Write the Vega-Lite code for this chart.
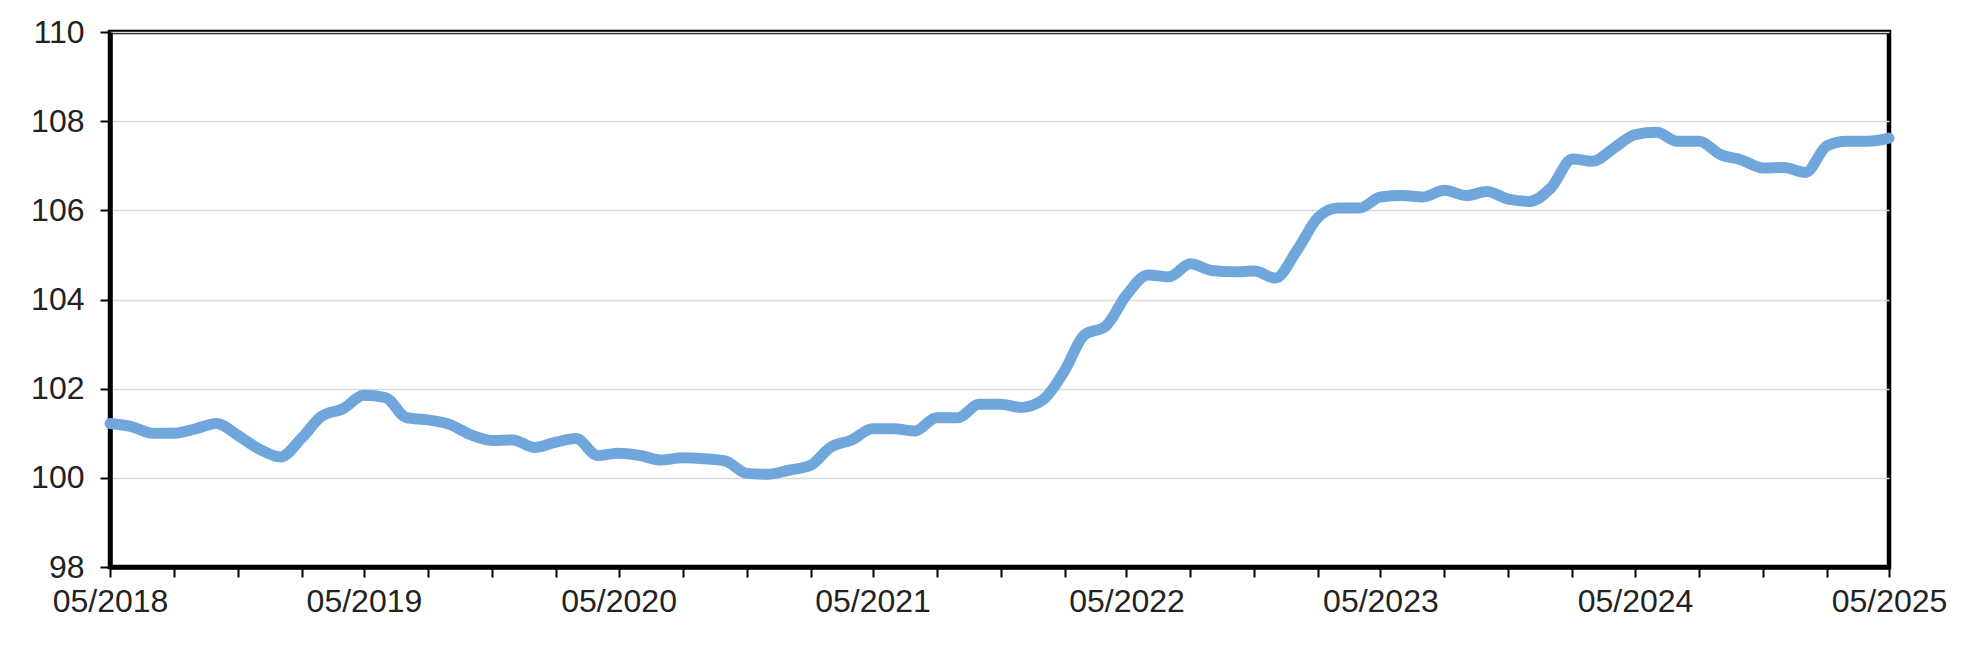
{
  "$schema": "https://vega.github.io/schema/vega-lite/v6.json",
  "autosize": "none",
  "padding": {"left": 110, "top": 32, "right": 91, "bottom": 92},
  "width": 1779,
  "height": 535,
  "background": "white",
  "view": {"stroke": "#000", "strokeWidth": 4.5},
  "config": {
    "axis": {
      "labelFont": "Liberation Sans",
      "labelFontSize": 32,
      "labelColor": "#222",
      "tickColor": "#000",
      "tickWidth": 2,
      "tickSize": 10,
      "domain": true,
      "domainColor": "#000",
      "domainWidth": 4.5,
      "labelFlush": false,
      "labelBound": false,
      "title": null
    }
  },
  "data": {
    "values": [
      {"date": "2018-05-01", "v": 101.22},
      {"date": "2018-06-01", "v": 101.15},
      {"date": "2018-07-01", "v": 101.0},
      {"date": "2018-08-01", "v": 101.0},
      {"date": "2018-09-01", "v": 101.1},
      {"date": "2018-10-01", "v": 101.22},
      {"date": "2018-11-01", "v": 100.95},
      {"date": "2018-12-01", "v": 100.65},
      {"date": "2019-01-01", "v": 100.47},
      {"date": "2019-02-01", "v": 100.9},
      {"date": "2019-03-01", "v": 101.38},
      {"date": "2019-04-01", "v": 101.55},
      {"date": "2019-05-01", "v": 101.85},
      {"date": "2019-06-01", "v": 101.8},
      {"date": "2019-07-01", "v": 101.35},
      {"date": "2019-08-01", "v": 101.3},
      {"date": "2019-09-01", "v": 101.2},
      {"date": "2019-10-01", "v": 100.97},
      {"date": "2019-11-01", "v": 100.84},
      {"date": "2019-12-01", "v": 100.85},
      {"date": "2020-01-01", "v": 100.68},
      {"date": "2020-02-01", "v": 100.8},
      {"date": "2020-03-01", "v": 100.88},
      {"date": "2020-04-01", "v": 100.5},
      {"date": "2020-05-01", "v": 100.55},
      {"date": "2020-06-01", "v": 100.5},
      {"date": "2020-07-01", "v": 100.4},
      {"date": "2020-08-01", "v": 100.45},
      {"date": "2020-09-01", "v": 100.43},
      {"date": "2020-10-01", "v": 100.38},
      {"date": "2020-11-01", "v": 100.1},
      {"date": "2020-12-01", "v": 100.08},
      {"date": "2021-01-01", "v": 100.17},
      {"date": "2021-02-01", "v": 100.28},
      {"date": "2021-03-01", "v": 100.68},
      {"date": "2021-04-01", "v": 100.85},
      {"date": "2021-05-01", "v": 101.1},
      {"date": "2021-06-01", "v": 101.1},
      {"date": "2021-07-01", "v": 101.05},
      {"date": "2021-08-01", "v": 101.35},
      {"date": "2021-09-01", "v": 101.35},
      {"date": "2021-10-01", "v": 101.65},
      {"date": "2021-11-01", "v": 101.65},
      {"date": "2021-12-01", "v": 101.58},
      {"date": "2022-01-01", "v": 101.75},
      {"date": "2022-02-01", "v": 102.4},
      {"date": "2022-03-01", "v": 103.2},
      {"date": "2022-04-01", "v": 103.4},
      {"date": "2022-05-01", "v": 104.1},
      {"date": "2022-06-01", "v": 104.55},
      {"date": "2022-07-01", "v": 104.51},
      {"date": "2022-08-01", "v": 104.8},
      {"date": "2022-09-01", "v": 104.65},
      {"date": "2022-10-01", "v": 104.62},
      {"date": "2022-11-01", "v": 104.64},
      {"date": "2022-12-01", "v": 104.48},
      {"date": "2023-01-01", "v": 105.1},
      {"date": "2023-02-01", "v": 105.85},
      {"date": "2023-03-01", "v": 106.05},
      {"date": "2023-04-01", "v": 106.05},
      {"date": "2023-05-01", "v": 106.3},
      {"date": "2023-06-01", "v": 106.33},
      {"date": "2023-07-01", "v": 106.3},
      {"date": "2023-08-01", "v": 106.45},
      {"date": "2023-09-01", "v": 106.33},
      {"date": "2023-10-01", "v": 106.42},
      {"date": "2023-11-01", "v": 106.25},
      {"date": "2023-12-01", "v": 106.2},
      {"date": "2024-01-01", "v": 106.5},
      {"date": "2024-02-01", "v": 107.15},
      {"date": "2024-03-01", "v": 107.1},
      {"date": "2024-04-01", "v": 107.4},
      {"date": "2024-05-01", "v": 107.7},
      {"date": "2024-06-01", "v": 107.75},
      {"date": "2024-07-01", "v": 107.55},
      {"date": "2024-08-01", "v": 107.55},
      {"date": "2024-09-01", "v": 107.25},
      {"date": "2024-10-01", "v": 107.13},
      {"date": "2024-11-01", "v": 106.95},
      {"date": "2024-12-01", "v": 106.96},
      {"date": "2025-01-01", "v": 106.85},
      {"date": "2025-02-01", "v": 107.45},
      {"date": "2025-03-01", "v": 107.55},
      {"date": "2025-04-01", "v": 107.55},
      {"date": "2025-05-01", "v": 107.62}
    ]
  },
  "mark": {"type": "line", "color": "#6fa6dc", "strokeWidth": 11, "interpolate": "monotone", "strokeCap": "round", "strokeJoin": "round"},
  "encoding": {
    "x": {
      "field": "date",
      "type": "temporal",
      "scale": {"type": "utc", "domain": [{"year": 2018, "month": 5, "date": 1, "utc": true}, {"year": 2025, "month": 5, "date": 1, "utc": true}], "nice": false},
      "axis": {
        "grid": false,
        "labelPadding": 9,
        "labelOverlap": false,
        "labelExpr": "utcmonth(datum.value) == 4 ? utcFormat(datum.value, '%m/%Y') : ''",
        "values": [
          {"year": 2018, "month": 5, "date": 1, "utc": true},
          {"year": 2018, "month": 8, "date": 1, "utc": true},
          {"year": 2018, "month": 11, "date": 1, "utc": true},
          {"year": 2019, "month": 2, "date": 1, "utc": true},
          {"year": 2019, "month": 5, "date": 1, "utc": true},
          {"year": 2019, "month": 8, "date": 1, "utc": true},
          {"year": 2019, "month": 11, "date": 1, "utc": true},
          {"year": 2020, "month": 2, "date": 1, "utc": true},
          {"year": 2020, "month": 5, "date": 1, "utc": true},
          {"year": 2020, "month": 8, "date": 1, "utc": true},
          {"year": 2020, "month": 11, "date": 1, "utc": true},
          {"year": 2021, "month": 2, "date": 1, "utc": true},
          {"year": 2021, "month": 5, "date": 1, "utc": true},
          {"year": 2021, "month": 8, "date": 1, "utc": true},
          {"year": 2021, "month": 11, "date": 1, "utc": true},
          {"year": 2022, "month": 2, "date": 1, "utc": true},
          {"year": 2022, "month": 5, "date": 1, "utc": true},
          {"year": 2022, "month": 8, "date": 1, "utc": true},
          {"year": 2022, "month": 11, "date": 1, "utc": true},
          {"year": 2023, "month": 2, "date": 1, "utc": true},
          {"year": 2023, "month": 5, "date": 1, "utc": true},
          {"year": 2023, "month": 8, "date": 1, "utc": true},
          {"year": 2023, "month": 11, "date": 1, "utc": true},
          {"year": 2024, "month": 2, "date": 1, "utc": true},
          {"year": 2024, "month": 5, "date": 1, "utc": true},
          {"year": 2024, "month": 8, "date": 1, "utc": true},
          {"year": 2024, "month": 11, "date": 1, "utc": true},
          {"year": 2025, "month": 2, "date": 1, "utc": true},
          {"year": 2025, "month": 5, "date": 1, "utc": true}
        ]
      }
    },
    "y": {
      "field": "v",
      "type": "quantitative",
      "scale": {"domain": [98, 110], "nice": false, "zero": false},
      "axis": {
        "values": [98, 100, 102, 104, 106, 108, 110],
        "format": "d",
        "labelPadding": 16,
        "grid": true,
        "gridColor": "#d9d9d9",
        "gridWidth": 1.5
      }
    }
  }
}
